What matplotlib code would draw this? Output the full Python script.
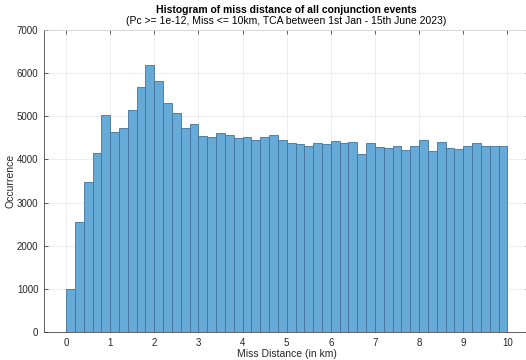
import numpy as np
import matplotlib
matplotlib.use("Agg")
import matplotlib.pyplot as plt

plt.rcParams['font.family'] = ['Liberation Sans', 'DejaVu Sans']

bin_start = 0.0
bin_width = 0.2
counts = [1000, 2560, 3470, 4140, 5020, 4640, 4730, 5140, 5680, 6200,
          5810, 5300, 5070, 4730, 4820, 4540, 4510, 4620, 4560, 4490,
          4510, 4440, 4520, 4560, 4450, 4380, 4350, 4300, 4370, 4350,
          4420, 4390, 4400, 4120, 4390, 4280, 4260, 4320, 4220, 4320,
          4460, 4190, 4410, 4260, 4240, 4320, 4390, 4300, 4300, 4310]
xticks = list(range(0, 11))
yticks = list(range(0, 7001, 1000))

title = "Histogram of miss distance of all conjunction events"
subtitle = "(Pc >= 1e-12, Miss <= 10km, TCA between 1st Jan - 15th June 2023)"

fig = plt.figure(figsize=(5.26, 3.6), dpi=100)
W, H = 526, 360
ax = fig.add_axes([44/W, 1 - 332/H, (529.4-44)/W, (332-30)/H])

lefts = bin_start + bin_width * np.arange(len(counts))
ax.bar(lefts, counts, width=bin_width, align='edge', color='#66aad7',
       edgecolor='#44739c', linewidth=0.6, zorder=2)

ax.set_xlim(-0.5, 10.5)
ax.set_ylim(0, 7000)
ax.set_xticks(xticks)
ax.set_yticks(yticks)
ax.tick_params(direction='in', length=3, width=0.5, labelsize=7, colors='#262626',
               top=True, right=True, pad=4)
ax.grid(True, color='#ebebeb', linewidth=0.6, zorder=0)
ax.set_axisbelow(True)
for s in ax.spines.values():
    s.set_color('#262626')
    s.set_linewidth(0.5)
for s in ['top', 'right']:
    ax.spines[s].set_color('#cfcfcf')

ax.set_xlabel("Miss Distance (in km)", fontsize=7.5, labelpad=1, color='#262626')
ax.set_ylabel("Occurrence", fontsize=7.5, labelpad=1, color='#262626')

fig.text(286/W, 1 - 10/H, title, ha='center', va='center', fontsize=7.5,
         fontweight='bold', color='black')
fig.text(286/W, 1 - 21/H, subtitle, ha='center', va='center', fontsize=7.5,
         color='black')

fig.savefig("out.png", dpi=100)
